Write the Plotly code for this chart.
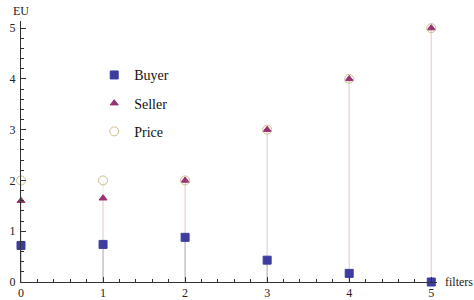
import plotly.graph_objects as go

filters = [0, 1, 2, 3, 4, 5]
buyer = [0.72, 0.74, 0.88, 0.43, 0.17, 0.0]
seller = [1.6, 1.65, 2.0, 3.0, 4.0, 5.0]
price = [2.0, 2.0, 2.0, 3.0, 4.0, 5.0]

series = [
    ("Buyer", buyer, "rgb(61,61,160)", "square", 8, "rgba(61,61,153,0.2)"),
    ("Seller", seller, "rgb(153,50,113)", "triangle-up", 7, "rgba(153,61,113,0.15)"),
    ("Price", price, "rgb(205,190,140)", "circle-open", 9, "rgba(170,150,70,0.14)"),
]

fig = go.Figure()

# stems (filling to axis)
for name, vals, col, sym, sz, stemcol in series:
    xs, ys = [], []
    for xv, yv in zip(filters, vals):
        xs += [xv, xv, None]
        ys += [0, yv, None]
    fig.add_trace(go.Scatter(x=xs, y=ys, mode="lines", line=dict(color=stemcol, width=1.3),
                             showlegend=False, hoverinfo="skip", cliponaxis=False))

for name, vals, col, sym, sz, stemcol in series:
    fig.add_trace(go.Scatter(x=filters, y=vals, mode="markers", name=name, legendgroup=name,
                             marker=dict(symbol=sym, size=sz, color=col,
                                         line=dict(color=col, width=1)),
                             cliponaxis=False))

font = dict(family="Liberation Serif, Times New Roman, serif", size=12, color="#222")

fig.update_layout(
    width=474, height=300,
    margin=dict(l=21, r=37, t=21, b=18, autoexpand=False),
    plot_bgcolor="white", paper_bgcolor="white",
    font=font,
    showlegend=True,
    legend=dict(x=0.176, y=0.853, xanchor="left", yanchor="top",
                font=dict(family="Liberation Serif, serif", size=14, color="#111"),
                bgcolor="rgba(0,0,0,0)", tracegroupgap=7, itemwidth=30),
    xaxis=dict(range=[0, 5.07], showgrid=False, zeroline=False, automargin=False,
               showline=True, linecolor="#333", linewidth=1,
               ticks="inside", ticklen=5, tickcolor="#333", tickwidth=1,
               tickvals=filters, ticktext=[str(v) for v in filters],
               minor=dict(dtick=0.2, ticks="inside", ticklen=3, tickcolor="#333", tickwidth=1),
               tickfont=font, ticklabelstandoff=0),
    yaxis=dict(range=[0, 5.14], showgrid=False, zeroline=False, automargin=False,
               showline=True, linecolor="#333", linewidth=1,
               ticks="inside", ticklen=5, tickcolor="#333", tickwidth=1,
               tickvals=[0, 1, 2, 3, 4, 5],
               minor=dict(dtick=0.2, ticks="inside", ticklen=3, tickcolor="#333", tickwidth=1),
               tickfont=font, ticklabelstandoff=2),
    annotations=[
        dict(text="EU", xref="paper", yref="paper", x=0.0, y=1.0, yshift=10,
             xanchor="center", yanchor="middle", showarrow=False, font=font),
        dict(text="filters", xref="paper", yref="paper", x=1.0, y=0.0, xshift=6,
             xanchor="left", yanchor="middle", showarrow=False, font=font),
    ],
)

fig.write_html("out.html", config={"displayModeBar": False},
               post_script="document.body.style.margin='0';document.body.style.overflow='hidden';")
